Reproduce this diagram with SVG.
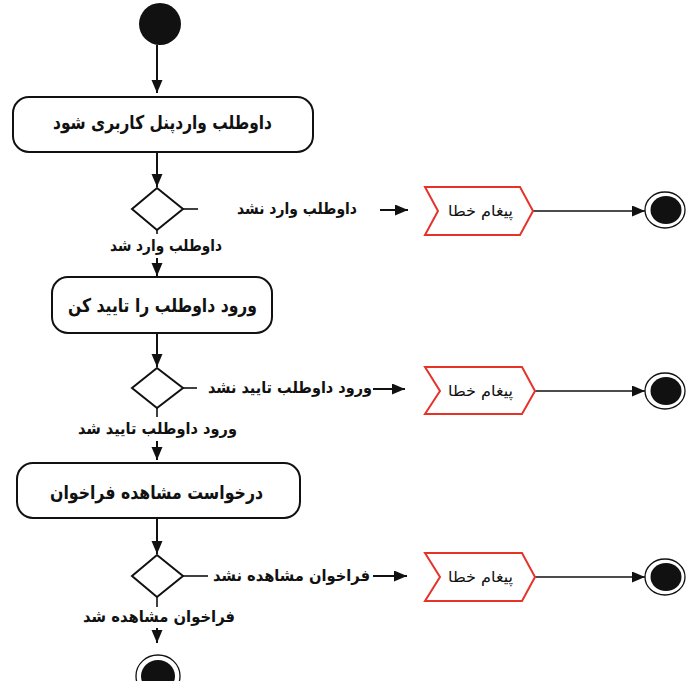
<svg xmlns="http://www.w3.org/2000/svg" width="686" height="681" viewBox="0 0 686 681">
<style>
.box{fill:#fff;stroke:#111;stroke-width:2}
.dia{fill:#fff;stroke:#111;stroke-width:2}
.err{fill:#fff;stroke:#e5332a;stroke-width:2}
.ln{stroke:#111;stroke-width:2;fill:none}
.ln2{stroke:#111;stroke-width:1.6;fill:none}
.t{font-family:"DejaVu Sans","Noto Sans",sans-serif;fill:#111;text-anchor:middle;font-weight:bold}
.tb{font-size:19px}
.tl{font-size:16px}
.te{font-size:15px;font-weight:normal}
.endo{fill:#fff;stroke:#111;stroke-width:1.3}
.endi{fill:#111}
</style>
<defs>
<marker id="ah" markerUnits="userSpaceOnUse" markerWidth="14" markerHeight="12" refX="13" refY="5.5" orient="auto">
<path d="M0,0 L13,5.5 L0,11 z" fill="#111"/>
</marker>
</defs>
<rect width="686" height="681" fill="#fff"/>

<g id="connectors">
<line class="ln" x1="157" y1="45" x2="157" y2="93" marker-end="url(#ah)"/>
<line class="ln" x1="157" y1="152" x2="157" y2="187" marker-end="url(#ah)"/>
<line class="ln2" x1="183" y1="209" x2="198" y2="209"/>
<line class="ln" x1="380" y1="210" x2="408" y2="210" marker-end="url(#ah)"/>
<line class="ln2" x1="533" y1="211" x2="645" y2="211" marker-end="url(#ah)"/>
<line class="ln2" x1="157" y1="230" x2="157" y2="234"/>
<line class="ln" x1="157" y1="258" x2="157" y2="276" marker-end="url(#ah)"/>

<line class="ln" x1="157" y1="333" x2="157" y2="367" marker-end="url(#ah)"/>
<line class="ln2" x1="183" y1="388" x2="197" y2="388"/>
<line class="ln" x1="373" y1="389" x2="405" y2="389" marker-end="url(#ah)"/>
<line class="ln2" x1="535" y1="391" x2="645" y2="391" marker-end="url(#ah)"/>
<line class="ln2" x1="157" y1="408" x2="157" y2="417"/>
<line class="ln" x1="157" y1="441" x2="157" y2="460" marker-end="url(#ah)"/>

<line class="ln" x1="157" y1="518" x2="157" y2="554" marker-end="url(#ah)"/>
<line class="ln2" x1="183" y1="576" x2="208" y2="576"/>
<line class="ln" x1="373" y1="576" x2="407" y2="576" marker-end="url(#ah)"/>
<line class="ln2" x1="535" y1="577" x2="645" y2="577" marker-end="url(#ah)"/>
<line class="ln2" x1="157" y1="597" x2="157" y2="607"/>
<line class="ln" x1="157" y1="628" x2="157" y2="643" marker-end="url(#ah)"/>
</g>

<g id="start"><ellipse cx="160" cy="24" rx="21" ry="21" fill="#111"/></g>

<g id="act1">
<rect class="box" x="13" y="97" width="300" height="55" rx="16"/>
<text class="t tb" x="162.5" y="129" textLength="219" lengthAdjust="spacingAndGlyphs">داوطلب واردپنل کاربری شود</text>
</g>
<g id="dec1"><polygon class="dia" points="157,188 183,209 157,230 132,209"/></g>
<g id="lbl1">
<text class="t tl" x="297" y="214" textLength="120" lengthAdjust="spacingAndGlyphs">داوطلب وارد نشد</text>
<text class="t tl" x="166" y="251" textLength="112" lengthAdjust="spacingAndGlyphs">داوطلب وارد شد</text>
</g>
<g id="err1">
<polygon class="err" points="425,187 520,187 533,211 520,235 425,235 438,211"/>
<text class="t te" x="480.5" y="216" textLength="65" lengthAdjust="spacingAndGlyphs">پیغام خطا</text>
</g>
<g id="end1">
<ellipse class="endo" cx="665" cy="210" rx="20" ry="18"/>
<ellipse class="endi" cx="666" cy="210" rx="15.5" ry="14"/>
</g>

<g id="act2">
<rect class="box" x="52" y="277" width="220" height="56" rx="16"/>
<text class="t tb" x="162.5" y="312" textLength="189" lengthAdjust="spacingAndGlyphs">ورود داوطلب را تایید کن</text>
</g>
<g id="dec2"><polygon class="dia" points="157,368 183,388 157,408 132,388"/></g>
<g id="lbl2">
<text class="t tl" x="290" y="393" textLength="164" lengthAdjust="spacingAndGlyphs">ورود داوطلب تایید نشد</text>
<text class="t tl" x="157.5" y="434" textLength="159" lengthAdjust="spacingAndGlyphs">ورود داوطلب تایید شد</text>
</g>
<g id="err2">
<polygon class="err" points="425,367 522,367 535,391 522,414 425,414 440,391"/>
<text class="t te" x="480.5" y="396" textLength="65" lengthAdjust="spacingAndGlyphs">پیغام خطا</text>
</g>
<g id="end2">
<ellipse class="endo" cx="665" cy="391" rx="20" ry="18"/>
<ellipse class="endi" cx="666" cy="391" rx="15.5" ry="14"/>
</g>

<g id="act3">
<rect class="box" x="17" y="463" width="283" height="55" rx="16"/>
<text class="t tb" x="156.5" y="499" textLength="213" lengthAdjust="spacingAndGlyphs">درخواست مشاهده فراخوان</text>
</g>
<g id="dec3"><polygon class="dia" points="157,555 183,576 157,597 132,576"/></g>
<g id="lbl3">
<text class="t tl" x="291.5" y="581" textLength="157" lengthAdjust="spacingAndGlyphs">فراخوان مشاهده نشد</text>
<text class="t tl" x="159" y="622" textLength="152" lengthAdjust="spacingAndGlyphs">فراخوان مشاهده شد</text>
</g>
<g id="err3">
<polygon class="err" points="425,553 522,553 535,577 522,601 425,601 440,577"/>
<text class="t te" x="480.5" y="582" textLength="65" lengthAdjust="spacingAndGlyphs">پیغام خطا</text>
</g>
<g id="end3">
<ellipse class="endo" cx="665" cy="577" rx="20" ry="18"/>
<ellipse class="endi" cx="666" cy="577" rx="15.5" ry="14"/>
</g>

<g id="end4">
<ellipse class="endo" cx="158" cy="676" rx="22" ry="21"/>
<ellipse class="endi" cx="158" cy="676" rx="17" ry="16"/>
</g>
</svg>
